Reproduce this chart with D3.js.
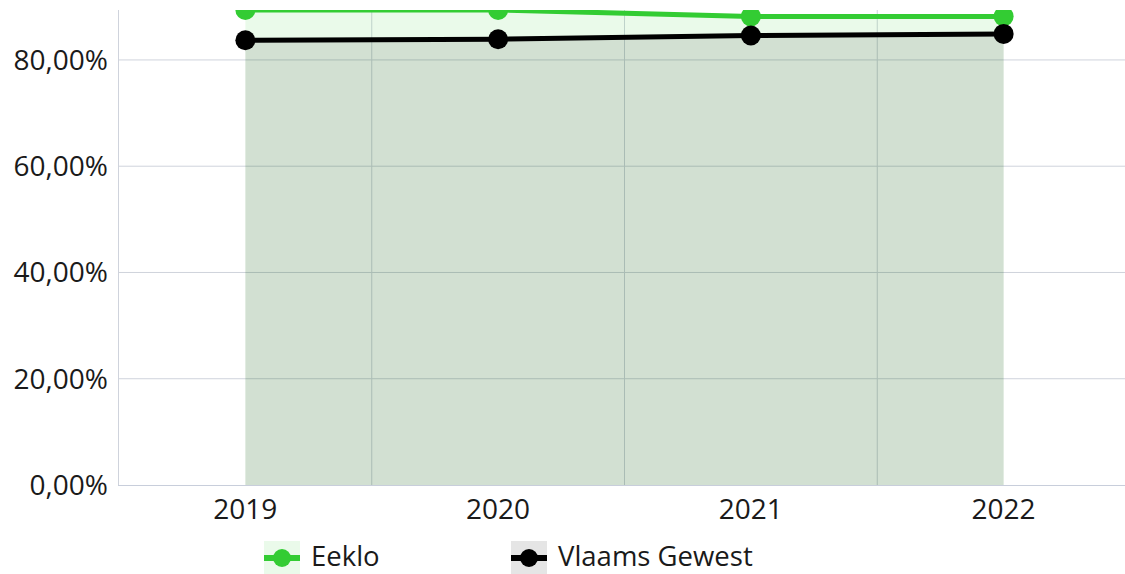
<!DOCTYPE html>
<html>
<head>
<meta charset="utf-8">
<script src="https://cdn.jsdelivr.net/npm/d3@7"></script>
<style>
  body { margin: 0; background: #fff; overflow: hidden; }
  text { font-family: "Open Sans", "Noto Sans", sans-serif; fill: #1a1a1a; }
</style>
</head>
<body>
<div id="wrapper"></div>
<script>
// Data
const years = ["2019", "2020", "2021", "2022"]
const eeklo = [89.4, 89.4, 88.2, 88.2]
const vlaams = [83.7, 83.9, 84.6, 84.9]
const yTicks = [0, 20, 40, 60, 80]
const seriesNames = ["Eeklo", "Vlaams Gewest"]

const dimensions = {
  width: 1125,
  height: 574,
  margin: { top: 10, right: -5, bottom: 89, left: 119 },
}
dimensions.boundedWidth = dimensions.width - dimensions.margin.left - dimensions.margin.right
dimensions.boundedHeight = dimensions.height - dimensions.margin.top - dimensions.margin.bottom

const fmt = v => d3.format(".2f")(v).replace(".", ",") + "%"

function drawChart() {
  const svg = d3.select("#wrapper").append("svg")
    .attr("width", dimensions.width)
    .attr("height", dimensions.height)

  const bounds = svg.append("g")
    .attr("transform", `translate(${dimensions.margin.left},${dimensions.margin.top})`)

  const xScale = d3.scaleBand()
    .domain(years)
    .range([0, dimensions.boundedWidth])
  const xCenter = d => xScale(d) + xScale.bandwidth() / 2

  const yScale = d3.scaleLinear()
    .domain([0, d3.max(eeklo)])
    .range([dimensions.boundedHeight, 0])

  svg.append("defs").append("clipPath").attr("id", "plotClip")
    .append("rect")
      .attr("x", 0).attr("y", 0)
      .attr("width", dimensions.boundedWidth)
      .attr("height", dimensions.boundedHeight)

  // grid
  const grid = bounds.append("g")
  grid.selectAll(".hgrid").data(yTicks.filter(t => t > 0)).join("line")
    .attr("x1", 0).attr("x2", dimensions.boundedWidth)
    .attr("y1", d => yScale(d)).attr("y2", d => yScale(d))
    .attr("stroke", "#cfd3dc").attr("stroke-width", 1)
  grid.selectAll(".vgrid").data(years.slice(1)).join("line")
    .attr("x1", d => xScale(d)).attr("x2", d => xScale(d))
    .attr("y1", 0).attr("y2", dimensions.boundedHeight)
    .attr("stroke", "#cfd3dc").attr("stroke-width", 1)

  const plot = bounds.append("g").attr("clip-path", "url(#plotClip)")

  const area = vals => d3.area()
    .x((d, i) => xCenter(years[i]))
    .y0(yScale(0))
    .y1(d => yScale(d))(vals)
  const line = vals => d3.line()
    .x((d, i) => xCenter(years[i]))
    .y(d => yScale(d))(vals)

  plot.append("path").attr("d", area(eeklo)).attr("fill", "rgba(50,205,50,0.1)")
  plot.append("path").attr("d", area(vlaams)).attr("fill", "rgba(0,0,0,0.1)")

  const series = [
    { vals: eeklo, color: "#33cc33" },
    { vals: vlaams, color: "#000000" },
  ]
  series.forEach(s => {
    plot.append("path").attr("d", line(s.vals))
      .attr("fill", "none").attr("stroke", s.color).attr("stroke-width", 5)
    plot.selectAll(null).data(s.vals).join("circle")
      .attr("cx", (d, i) => xCenter(years[i]))
      .attr("cy", d => yScale(d))
      .attr("r", 10)
      .attr("fill", s.color)
  })

  // axes lines
  bounds.append("line")
    .attr("x1", -0.5).attr("x2", -0.5)
    .attr("y1", 0).attr("y2", dimensions.boundedHeight)
    .attr("stroke", "#cfd3dc")
  bounds.append("line")
    .attr("x1", -1).attr("x2", dimensions.boundedWidth)
    .attr("y1", dimensions.boundedHeight + 0.5).attr("y2", dimensions.boundedHeight + 0.5)
    .attr("stroke", "#c8cedb")

  // y labels
  bounds.selectAll(".ylab").data(yTicks).join("text")
    .attr("x", -11)
    .attr("y", d => yScale(d))
    .attr("dy", "0.35em")
    .attr("text-anchor", "end")
    .attr("font-size", 28)
    .text(fmt)

  // x labels
  bounds.selectAll(".xlab").data(years).join("text")
    .attr("x", d => xCenter(d))
    .attr("y", dimensions.boundedHeight + 24)
    .attr("dy", "0.35em")
    .attr("text-anchor", "middle")
    .attr("font-size", 28)
    .text(d => d)

  // legend
  const legendX = [264, 511]
  const legendFill = ["rgba(50,205,50,0.1)", "rgba(0,0,0,0.1)"]
  const legend = svg.append("g")
  seriesNames.forEach((name, i) => {
    const g = legend.append("g").attr("transform", `translate(${legendX[i]},541)`)
    g.append("rect").attr("width", 36).attr("height", 33).attr("fill", legendFill[i])
    g.append("line").attr("x1", 0).attr("x2", 36).attr("y1", 17).attr("y2", 17)
      .attr("stroke", series[i].color).attr("stroke-width", 6)
    g.append("circle").attr("cx", 18).attr("cy", 17).attr("r", 9).attr("fill", series[i].color)
    g.append("text").attr("x", 47).attr("y", 15).attr("dy", "0.35em")
      .attr("font-size", 27.5).text(name)
  })
}

drawChart()
</script>
</body>
</html>
